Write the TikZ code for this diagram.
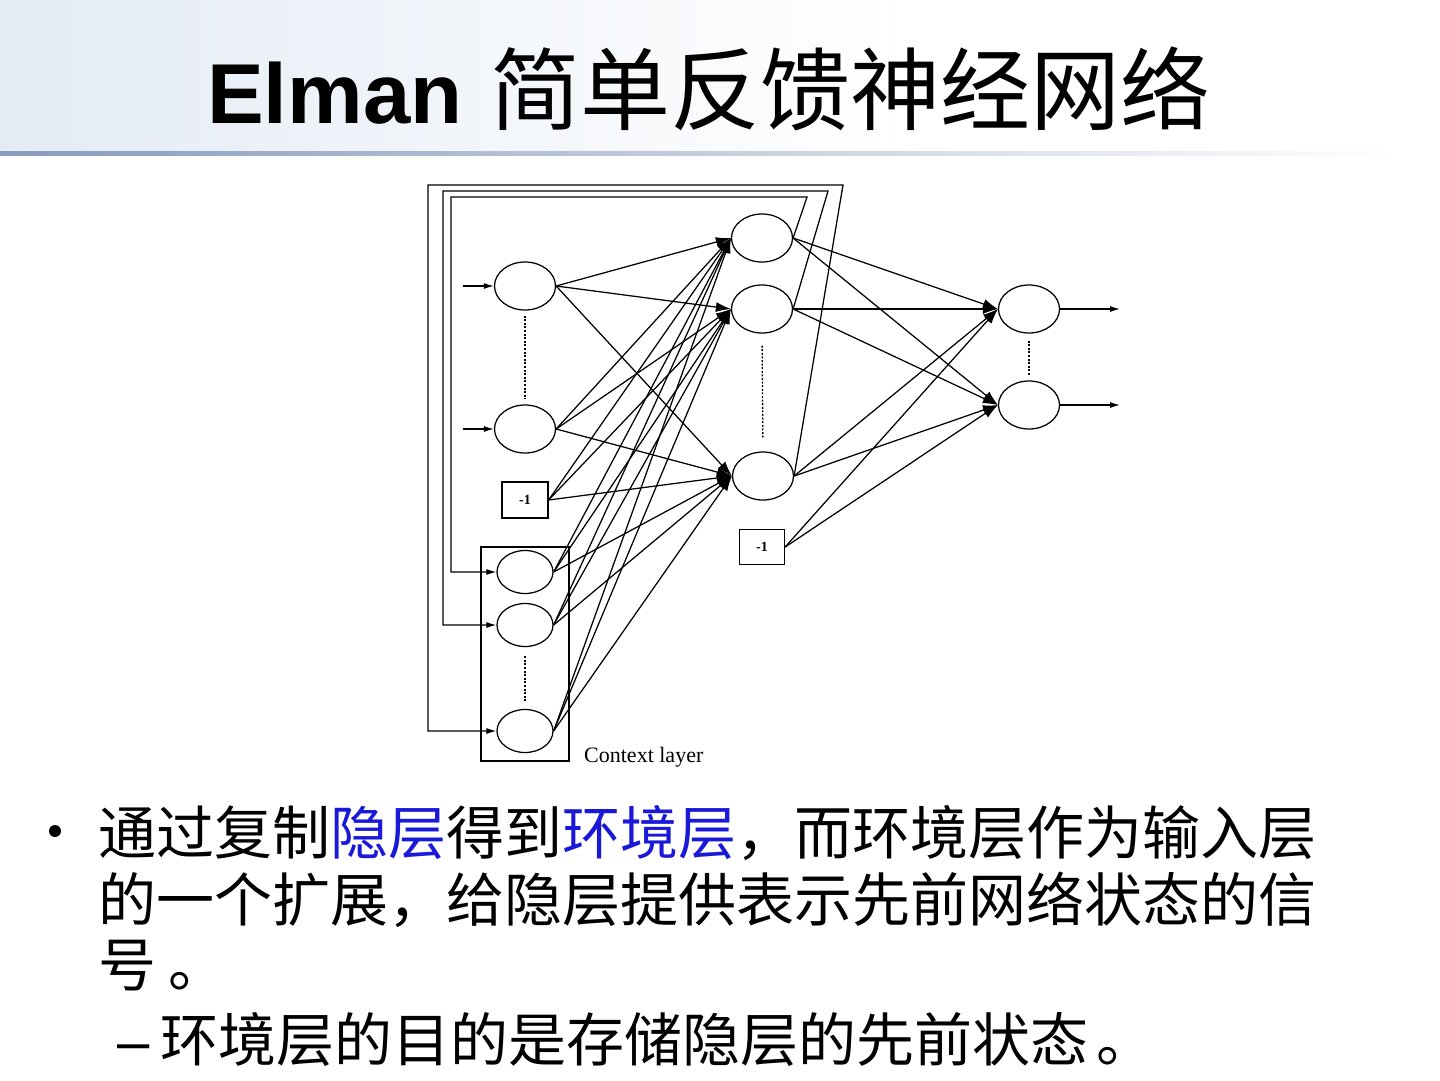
\documentclass[tikz,border=0pt]{standalone}
\usepackage{fontspec}
\setmainfont{Liberation Sans}
\newfontfamily\cjk{Noto Sans CJK SC}
\newfontfamily\serifx{Liberation Serif}
\usetikzlibrary{shapes.geometric,arrows.meta}
\definecolor{hlblue}{RGB}{25,25,215}
\definecolor{titlebg}{RGB}{228,235,245}
\definecolor{titleline}{RGB}{135,155,188}
\begin{document}
\begin{tikzpicture}[x=1pt,y=-1pt,
  neuron/.style={draw, ellipse, line width=1.25pt, minimum width=61pt, minimum height=48pt, inner sep=0pt},
  cneuron/.style={neuron, minimum width=56pt, minimum height=43pt},
  biasbox/.style={draw, rectangle, line width=1.25pt, inner sep=0pt, font=\serifx\bfseries\fontsize{14}{14}\selectfont},
  conn/.style={line width=1.25pt, -{Latex[length=15pt,width=10pt]}},
  smallarrow/.style={line width=1.25pt, -{Latex[length=10pt,width=6pt]}},
  dotline/.style={line width=1.3pt, dash pattern=on 2pt off 1.6pt},
  titletext/.style={anchor=base west, inner sep=0pt},
  bodytext/.style={anchor=base west, inner sep=0pt, font=\cjk\fontsize{58}{58}\selectfont}
]
\useasboundingbox (0,0) rectangle (1440,1080);
% title band
\shade[left color=titlebg, right color=white] (0,0) rectangle (900,152);
\shade[left color=titleline, right color=white] (0,151.5) rectangle (1400,155);
\node[titletext, font=\bfseries\fontsize{85}{85}\selectfont] (T1) at (207,123) {Elman};
\node[titletext, font=\cjk\fontsize{90}{90}\selectfont] (T2) at (490,123) {简单反馈神经网络};

% input layer
\node[neuron] (I1) at (525,286) {};
\node[neuron] (I2) at (525,429) {};
\node[biasbox, minimum width=46pt, minimum height=36pt] (B1) at (525,500) {-1};
% context layer
\node[draw, line width=1.25pt, minimum width=88pt, minimum height=214pt, inner sep=0pt] (CB) at (525,654) {};
\node[cneuron] (C1) at (525,572) {};
\node[cneuron] (C2) at (525,625) {};
\node[cneuron] (C3) at (525,731) {};
\node[anchor=base west, inner sep=0pt, font=\serifx\fontsize{22}{22}\selectfont] (CL) at (584,762) {Context layer};
% hidden layer
\node[neuron] (H1) at (762,238) {};
\node[neuron] (H2) at (762,309) {};
\node[neuron] (H3) at (763,476) {};
\node[biasbox, minimum width=45pt, minimum height=35pt] (B2) at (762,547) {-1};
% output layer
\node[neuron] (O1) at (1029,309) {};
\node[neuron] (O2) at (1029,405) {};

% dotted continuation marks
\draw[dotline, shorten <=5pt, shorten >=5pt] (I1.south) -- (I2.north);
\draw[dotline, shorten <=9pt, shorten >=8pt] (C2.south) -- (C3.north);
\draw[dotline, shorten <=12pt, shorten >=14pt] (H2.south) -- (H3.north);
\draw[dotline, shorten <=7pt, shorten >=5pt] (O1.south) -- (O2.north);

% external inputs and outputs
\coordinate (in1) at (463,286);
\coordinate (in2) at (463,429);
\coordinate (out1) at (1120,309);
\coordinate (out2) at (1120,405);
\draw[smallarrow] (in1) -- (I1.west);
\draw[smallarrow] (in2) -- (I2.west);
\draw[smallarrow] (O1.east) -- (out1);
\draw[smallarrow] (O2.east) -- (out2);

% input + context -> hidden
\foreach \s in {I1,I2,B1,C1,C2,C3}
  \foreach \t in {H1,H2,H3}
    \draw[conn] (\s.east) -- (\t.west);
% hidden -> output
\foreach \s in {H1,H2,H3,B2}
  \foreach \t in {O1,O2}
    \draw[conn] (\s.east) -- (\t.west);

% copy-back connections hidden -> context
\coordinate (f1a) at (807,197);
\coordinate (f1b) at (451,197);
\coordinate (f1c) at (451,572);
\coordinate (f2a) at (828,191);
\coordinate (f2b) at (443,191);
\coordinate (f2c) at (443,625);
\coordinate (f3a) at (843,185);
\coordinate (f3b) at (428,185);
\coordinate (f3c) at (428,731);
\draw[smallarrow] (H1.east) -- (f1a) -- (f1b) -- (f1c) -- (C1.west);
\draw[smallarrow] (H2.east) -- (f2a) -- (f2b) -- (f2c) -- (C2.west);
\draw[smallarrow] (H3.east) -- (f3a) -- (f3b) -- (f3c) -- (C3.west);

% body text
\fill (55,831) circle (6);
\node[bodytext] (L1) at (98,854) {通过复制\textcolor{hlblue}{隐层}得到\textcolor{hlblue}{环境层}，而环境层作为输入层};
\node[bodytext] (L2) at (98,921) {的一个扩展，给隐层提供表示先前网络状态的信};
\node[bodytext] (L3) at (98,986) {号\hspace{12pt}。};
\node[anchor=base west, inner sep=0pt, font=\fontsize{58}{58}\selectfont] (D1) at (117,1061) {–};
\node[bodytext] (L4) at (160,1061) {环境层的目的是存储隐层的先前状态\hspace{8pt}。};
\end{tikzpicture}
\end{document}
